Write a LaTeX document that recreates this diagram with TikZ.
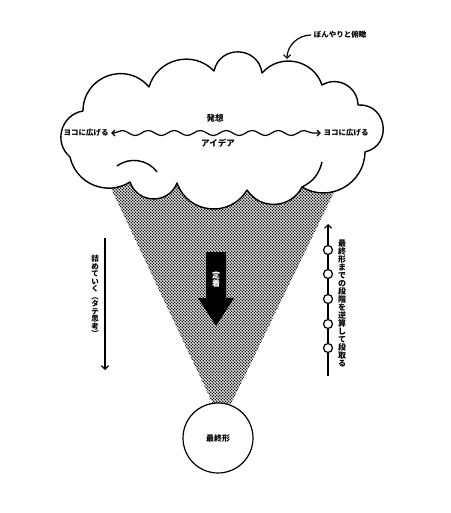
\documentclass[tikz,border=0pt]{standalone}
\usepackage{fontspec}
\setmainfont{Noto Sans CJK JP}
\usepackage{tikz}
\usetikzlibrary{arrows.meta, decorations.pathmorphing, patterns, positioning}

\pgfdeclarepatternformonly{halftone}{\pgfpoint{-.1pt}{-.1pt}}{\pgfpoint{3.1pt}{3.1pt}}{\pgfpoint{3pt}{3pt}}{%
  \pgfpathcircle{\pgfpoint{.75pt}{.75pt}}{.85pt}%
  \pgfpathcircle{\pgfpoint{2.25pt}{2.25pt}}{.85pt}%
  \pgfusepath{fill}}

\tikzset{
  bump/.style 2 args={bend left=#1, looseness=#2},
  cloudline/.style={line width=1.4pt, line join=round, fill=white},
  txt/.style={inner sep=2pt, font=\fontsize{7.5}{7.5}\selectfont\bfseries},
  bigtxt/.style={inner sep=1pt, font=\fontsize{8.5}{8.5}\selectfont\bfseries},
  tate/.style={inner sep=0pt, align=center, font=\fontsize{#1}{#1}\selectfont\bfseries},
  tate/.default=7.5,
  barb/.style={-{Straight Barb[length=3.5pt,width=7pt]}},
  stepdot/.style={circle, draw, fill=white, minimum size=9pt, inner sep=0pt},
  goal/.style={circle, draw, fill=white, minimum size=70pt, inner sep=0pt, font=\fontsize{8}{8}\selectfont\bfseries},
  wave/.style={decorate, decoration={snake, amplitude=2.5pt, segment length=26pt, pre length=3pt, post length=3pt},
    {Straight Barb[length=3pt,width=6pt]}-{Straight Barb[length=3pt,width=6pt]}}
}

\begin{document}
\begin{tikzpicture}[x=1pt, y=1pt, line width=1.2pt]
\useasboundingbox (0,0) rectangle (450,-513);

% funnel and final form
\fill[pattern=halftone] (108,-182) -- (339,-182) -- (231,-404) -- (213,-404) -- cycle;
\node[goal] (final) at (218,-438) {最終形};

% cloud
\draw[cloudline] (83,-111) to[bump={70}{1.27}] (149,-87)
  to[bump={60}{1.135}] (214,-71)
  to[bump={80}{1.45}] (262,-73)
  to[bump={60}{1.135}] (322,-85)
  to[bump={60}{1.135}] (358,-105)
  to[bump={85}{1.566}] (365,-152)
  to[bump={60}{1.135}] (302,-187)
  to[bump={60}{1.135}] (247,-190)
  to[bump={65}{1.197}] (177,-183)
  to[bump={70}{1.268}] (130,-182)
  to[bump={55}{1.083}] (70,-157)
  to[bump={65}{1.197}] (83,-111) -- cycle;
\draw[line width=1.4pt] (117,-166) to[bend left=45] (157,-172);
\draw[line width=1.4pt] (302,-187) to[bend right=25] (322,-162);

\node[bigtxt] (hasso) at (215,-118) {発想};
\node[bigtxt] (idea) at (218,-143) {アイデア};
\node[txt] (lspread) at (86,-133) {ヨコに広げる};
\node[txt] (rspread) at (346,-133) {ヨコに広げる};
\draw[wave] (lspread) -- (rspread);

\node[txt] (overview) at (340,-35) {ぼんやりと俯瞰};
\coordinate (cloudtop) at (287,-59);
\draw[barb] (overview.west) to[out=180,in=90] (cloudtop);

% settle arrow
\fill (206,-252) -- (226,-252) -- (226,-298) -- (234,-298) -- (216,-326) -- (198,-298) -- (206,-298) -- cycle;
\node[tate=8, text=white] (fix) at (216,-279) {定\\着};

% narrowing down
\coordinate (ltop) at (105,-238);
\coordinate (lbot) at (105,-370);
\draw[barb] (ltop) -- (lbot);
\node[tate] (narrow) at (95,-296) {詰\\め\\て\\い\\く\\︵\\タ\\テ\\思\\考\\︶};

% working back
\coordinate (rbot) at (328,-376);
\coordinate (rtop) at (328,-224);
\draw[barb] (rbot) -- (rtop);
\foreach \y [count=\i] in {250,274,299,324,348}
  \node[stepdot] (s\i) at (328,-\y) {};
\node[tate=8] (backplan) at (342,-303) {最\\終\\形\\ま\\で\\の\\段\\階\\を\\逆\\算\\し\\て\\段\\取\\る};

\end{tikzpicture}
\end{document}
